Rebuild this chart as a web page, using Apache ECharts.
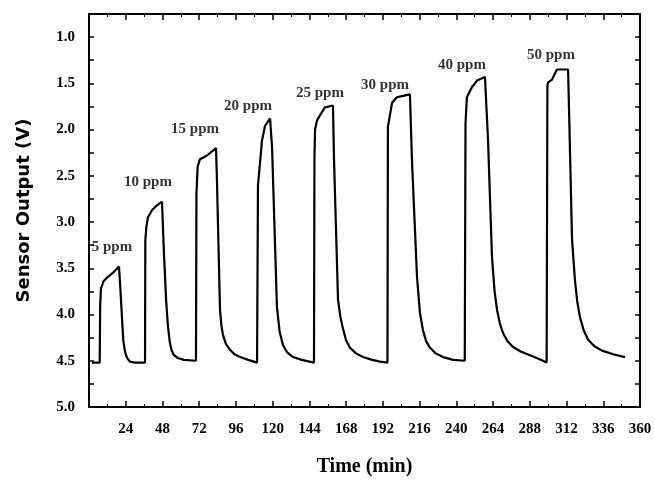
<!DOCTYPE html>
<html>
<head>
<meta charset="utf-8">
<script src="https://cdn.jsdelivr.net/npm/echarts@6/dist/echarts.min.js"></script>
<style>
  html, body { margin: 0; padding: 0; background: #fff; }
  #chart { width: 655px; height: 491px; }
</style>
</head>
<body>
<div id="chart"></div>
<script>
// sensor response trace
const timeMin = [
  2.0, 7.0, 7.3, 7.8, 9.5, 11.8, 15.5, 19.6, 20.6, 21.6, 22.4, 23.3, 24.2, 25.3, 26.8, 30.1, 36.6,
  36.8, 37.5, 38.5, 41.2, 44.4, 47.7, 49.0, 50.4, 51.6, 52.8, 54.0, 55.5, 58.0, 62.0, 69.9,
  70.2, 71.0, 72.5, 77.1, 83.0, 83.6, 85.6, 86.5, 87.5, 89.5, 92.1, 95.0, 98.7, 104.0, 109.8,
  110.4, 112.4, 113.0, 115.0, 118.3, 119.6, 122.8, 124.5, 126.7, 129.5, 133.3, 139.0, 147.0,
  147.3, 147.7, 149.0, 152.2, 154.2, 159.4, 160.1, 162.7, 164.2, 165.9, 168.0, 170.5, 174.5, 179.0, 185.0, 190.1, 195.0,
  195.3, 198.0, 201.2, 206.5, 207.8, 209.7, 211.0, 214.3, 216.2, 218.2, 220.3, 222.8, 226.5, 231.3, 238.0, 245.5,
  246.0, 246.9, 250.2, 252.2, 253.5, 258.7, 260.0, 260.7, 263.3, 265.0, 266.6, 268.5, 270.5, 273.5, 277.0, 282.0, 288.1, 294.0, 299.0,
  299.5, 300.0, 302.5, 304.5, 305.8, 313.0, 313.6, 315.6, 317.5, 319.0, 320.8, 323.2, 326.0, 330.0, 335.2, 342.5, 350.2
];
const sensorV = [
  4.52, 4.52, 3.90, 3.72, 3.64, 3.60, 3.55, 3.48, 3.75, 4.05, 4.28, 4.38, 4.44, 4.48, 4.51, 4.52, 4.52,
  3.20, 3.05, 2.95, 2.87, 2.82, 2.78, 3.35, 3.85, 4.13, 4.30, 4.39, 4.44, 4.47, 4.49, 4.50,
  2.70, 2.40, 2.32, 2.28, 2.20, 2.55, 3.95, 4.12, 4.22, 4.32, 4.38, 4.43, 4.46, 4.49, 4.52,
  2.60, 2.24, 2.12, 1.96, 1.88, 2.19, 3.92, 4.18, 4.33, 4.41, 4.46, 4.49, 4.52,
  2.30, 2.00, 1.90, 1.81, 1.76, 1.74, 2.33, 3.84, 4.02, 4.15, 4.28, 4.36, 4.42, 4.46, 4.49, 4.51, 4.52,
  1.97, 1.71, 1.65, 1.63, 1.65, 1.62, 2.33, 3.59, 3.98, 4.17, 4.29, 4.36, 4.42, 4.46, 4.49, 4.50,
  1.93, 1.65, 1.54, 1.50, 1.47, 1.43, 1.42, 2.11, 3.38, 3.75, 3.95, 4.10, 4.20, 4.29, 4.35, 4.40, 4.44, 4.48, 4.52,
  1.52, 1.49, 1.46, 1.39, 1.35, 1.35, 1.76, 3.19, 3.63, 3.86, 4.03, 4.17, 4.27, 4.34, 4.39, 4.43, 4.46
];

// concentration annotations
const ppmText = ['5 ppm', '10 ppm', '15 ppm', '20 ppm', '25 ppm', '30 ppm', '40 ppm', '50 ppm'];
const ppmTime = [15.0, 38.5, 69.3, 103.9, 150.9, 193.4, 243.7, 301.8];
const ppmV = [3.27, 2.57, 1.99, 1.75, 1.61, 1.52, 1.30, 1.19];

const serif = '"Liberation Serif", "DejaVu Serif", serif';
const sans = '"DejaVu Sans", Verdana, sans-serif';

const chart = echarts.init(document.getElementById('chart'));

const tickStyle = { color: '#000', width: 1.5 };
const xCommon = {
  type: 'value', min: 0, max: 360, interval: 24,
  axisLine: { show: true, onZero: false, lineStyle: { color: '#000', width: 2 } },
  axisTick: { show: true, inside: true, length: 6, lineStyle: tickStyle },
  minorTick: { show: true, splitNumber: 2, length: 3, lineStyle: { color: '#000', width: 1 } },
  splitLine: { show: false }
};
const yCommon = {
  type: 'value', inverse: true, min: 0.75, max: 5, interval: 0.25,
  axisLine: { show: true, onZero: false, lineStyle: { color: '#000', width: 2 } },
  axisTick: { show: true, inside: true, length: 5, lineStyle: tickStyle },
  splitLine: { show: false }
};

chart.setOption({
  animation: false,
  backgroundColor: '#fff',
  grid: { left: 89, top: 14, right: 15, bottom: 84 },
  xAxis: [
    Object.assign({}, xCommon, {
      position: 'bottom',
      name: 'Time (min)',
      nameLocation: 'middle',
      nameGap: 50,
      nameTextStyle: { fontFamily: serif, fontWeight: 'bold', fontSize: 20, color: '#000' },
      axisLabel: {
        margin: 15, fontFamily: serif, fontWeight: 'bold', fontSize: 15, color: '#000',
        formatter: v => (v === 0 ? '' : String(v))
      }
    }),
    Object.assign({}, xCommon, { position: 'top', axisLabel: { show: false } })
  ],
  yAxis: [
    Object.assign({}, yCommon, {
      position: 'left',
      name: 'Sensor Output (V)',
      nameLocation: 'middle',
      nameGap: 56,
      nameTextStyle: { fontFamily: sans, fontWeight: 'bold', fontSize: 18, color: '#000' },
      axisLabel: {
        margin: 14, fontFamily: serif, fontWeight: 'bold', fontSize: 15, color: '#000',
        formatter: v => (Math.round(v * 4) % 2 === 0 ? v.toFixed(1) : '')
      }
    }),
    Object.assign({}, yCommon, { position: 'right', axisLabel: { show: false } })
  ],
  series: [
    {
      type: 'line',
      data: timeMin.map((t, i) => [t, sensorV[i]]),
      showSymbol: false,
      smooth: false,
      lineStyle: { color: '#000', width: 2.2 }
    },
    {
      type: 'scatter',
      data: ppmTime.map((t, i) => [t, ppmV[i], ppmText[i]]),
      symbolSize: 0,
      silent: true,
      label: {
        show: true, position: 'inside',
        formatter: p => p.data[2],
        fontFamily: serif, fontWeight: 'bold', fontSize: 15, color: '#000'
      }
    }
  ]
});
</script>
</body>
</html>
